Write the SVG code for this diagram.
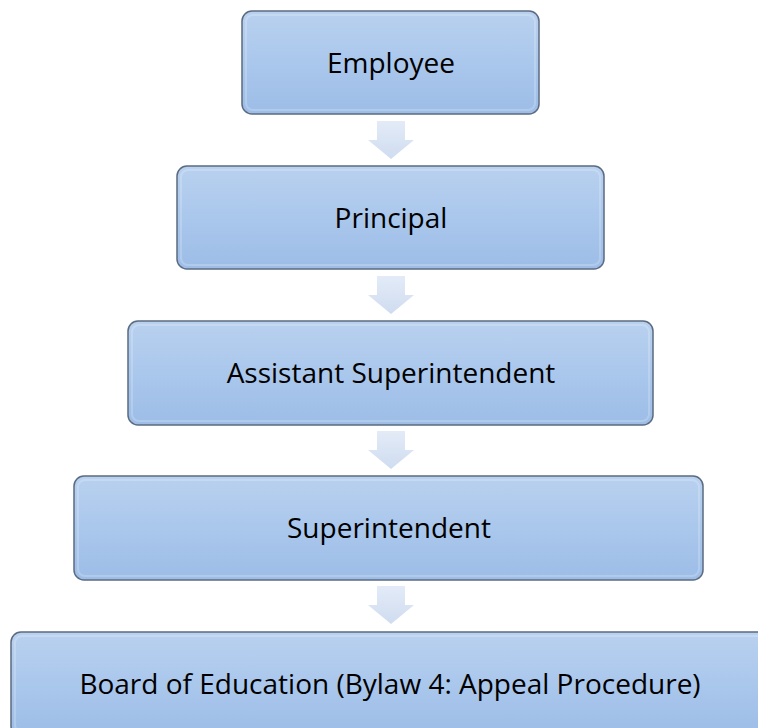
<svg xmlns="http://www.w3.org/2000/svg" width="758" height="728" viewBox="0 0 758 728">
<defs>
<linearGradient id="boxg" x1="0" y1="0" x2="0" y2="1">
<stop offset="0" stop-color="#b9d1ef"/>
<stop offset="0.5" stop-color="#aac7ec"/>
<stop offset="1" stop-color="#9dbde7"/>
</linearGradient>
<linearGradient id="arrg" x1="0" y1="0" x2="0" y2="1">
<stop offset="0" stop-color="#e3ebf7"/>
<stop offset="1" stop-color="#cfdcf0"/>
</linearGradient>
<style>
.box{fill:url(#boxg);stroke:#5b6b80;stroke-width:1.5}
.hl{fill:none;stroke:#ffffff;stroke-opacity:0.2;stroke-width:2}
.lbl{font-family:"Open Sans","Liberation Sans",sans-serif;font-size:28px;fill:#000;text-anchor:middle;dominant-baseline:central}
.arr{fill:url(#arrg)}
</style>
</defs>
<rect width="758" height="728" fill="#fff"/>
<g id="connectors">
<path class="arr" d="M377,121 H405 V140 H414 L391,159 L368,140 H377 Z"/>
<path class="arr" d="M377,276 H405 V295 H414 L391,314 L368,295 H377 Z"/>
<path class="arr" d="M377,431 H405 V450 H414 L391,469 L368,450 H377 Z"/>
<path class="arr" d="M377,586 H405 V605 H414 L391,624 L368,605 H377 Z"/>
</g>
<g id="employee">
<rect class="box" x="242" y="11" width="297" height="103" rx="10"/>
<rect class="hl" x="246" y="15" width="289" height="95" rx="7"/>
<text class="lbl" x="391" y="62">Employee</text>
</g>
<g id="principal">
<rect class="box" x="177" y="166" width="427" height="103" rx="10"/>
<rect class="hl" x="181" y="170" width="419" height="95" rx="7"/>
<text class="lbl" x="391" y="217">Principal</text>
</g>
<g id="assistant-superintendent">
<rect class="box" x="128" y="321" width="525" height="104" rx="10"/>
<rect class="hl" x="132" y="325" width="517" height="96" rx="7"/>
<text class="lbl" x="391" y="372">Assistant Superintendent</text>
</g>
<g id="superintendent">
<rect class="box" x="74" y="476" width="629" height="104" rx="10"/>
<rect class="hl" x="78" y="480" width="621" height="96" rx="7"/>
<text class="lbl" x="389" y="527">Superintendent</text>
</g>
<g id="board">
<rect class="box" x="11" y="632" width="760" height="104" rx="10"/>
<rect class="hl" x="15" y="636" width="752" height="96" rx="7"/>
<text class="lbl" x="390" y="683">Board of Education (Bylaw 4: Appeal Procedure)</text>
</g>
</svg>
